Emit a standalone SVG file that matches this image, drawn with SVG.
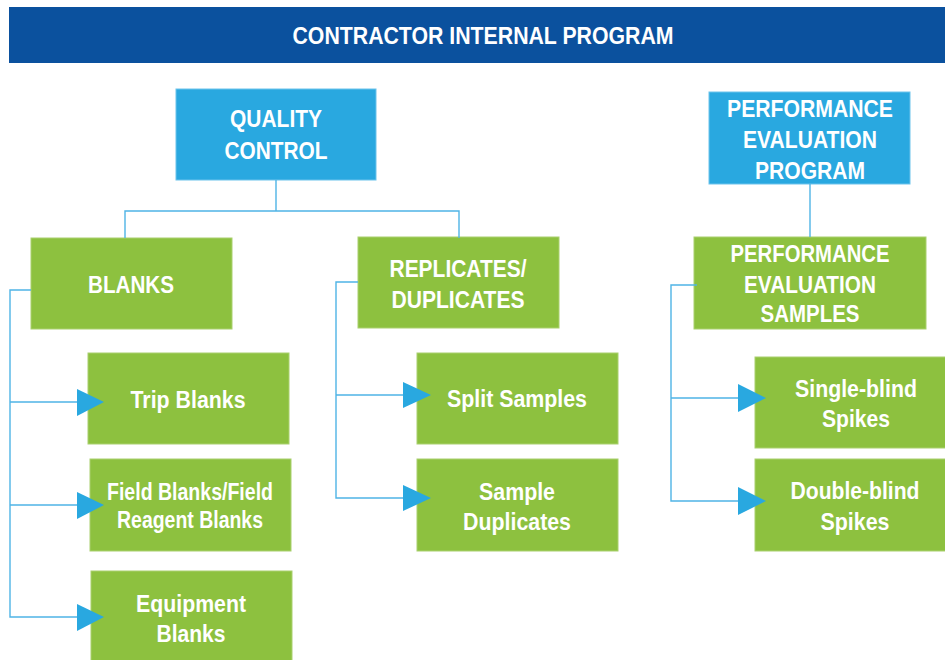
<svg xmlns="http://www.w3.org/2000/svg" width="945" height="660" viewBox="0 0 945 660">
<defs>
<style>
.t{font-family:"Liberation Sans Narrow","Liberation Sans",Arial,sans-serif;font-weight:bold;fill:#ffffff;text-anchor:middle;font-size:24px}
.g{fill:#8dc13f;stroke:#a9d06f;stroke-width:1}
.b{fill:#29a8e0;stroke:#6cc3ec;stroke-width:1}
.c{fill:none;stroke:#4fb4e6;stroke-width:1.4}
.a{fill:#29a8e0}
</style>
</defs>
<rect width="945" height="660" fill="#ffffff"/>
<g id="header">
<rect x="9" y="7" width="936" height="56" fill="#0b519e"/>
<text class="t" x="483" y="44" font-size="25" textLength="381" lengthAdjust="spacingAndGlyphs">CONTRACTOR INTERNAL PROGRAM</text>
</g>
<g id="quality-control">
<rect class="b" x="176" y="89" width="200" height="91"/>
<text class="t" x="276" y="127" textLength="92" lengthAdjust="spacingAndGlyphs">QUALITY</text>
<text class="t" x="276" y="159" textLength="103" lengthAdjust="spacingAndGlyphs">CONTROL</text>
</g>
<g id="blanks">
<rect class="g" x="31" y="238" width="201" height="91"/>
<text class="t" x="131" y="293" textLength="86" lengthAdjust="spacingAndGlyphs">BLANKS</text>
</g>
<g id="trip-blanks">
<rect class="g" x="88" y="353" width="201" height="91"/>
<text class="t" x="188" y="408" textLength="115" lengthAdjust="spacingAndGlyphs">Trip Blanks</text>
</g>
<g id="field-blanks">
<rect class="g" x="90" y="459" width="201" height="92"/>
<text class="t" x="190" y="500" textLength="166" lengthAdjust="spacingAndGlyphs">Field Blanks/Field</text>
<text class="t" x="190" y="528" textLength="146" lengthAdjust="spacingAndGlyphs">Reagent Blanks</text>
</g>
<g id="equipment-blanks">
<rect class="g" x="91" y="571" width="201" height="95"/>
<text class="t" x="191" y="612" textLength="110" lengthAdjust="spacingAndGlyphs">Equipment</text>
<text class="t" x="191" y="642" textLength="69" lengthAdjust="spacingAndGlyphs">Blanks</text>
</g>
<g id="replicates">
<rect class="g" x="358" y="237" width="201" height="91"/>
<text class="t" x="458" y="277" textLength="137" lengthAdjust="spacingAndGlyphs">REPLICATES/</text>
<text class="t" x="458" y="308" textLength="133" lengthAdjust="spacingAndGlyphs">DUPLICATES</text>
</g>
<g id="split-samples">
<rect class="g" x="417" y="353" width="201" height="91"/>
<text class="t" x="517" y="407" textLength="140" lengthAdjust="spacingAndGlyphs">Split Samples</text>
</g>
<g id="sample-duplicates">
<rect class="g" x="417" y="459" width="201" height="92"/>
<text class="t" x="517" y="500" textLength="76" lengthAdjust="spacingAndGlyphs">Sample</text>
<text class="t" x="517" y="530" textLength="108" lengthAdjust="spacingAndGlyphs">Duplicates</text>
</g>
<g id="pe-program">
<rect class="b" x="709" y="92" width="201" height="92"/>
<text class="t" x="810" y="117" textLength="166" lengthAdjust="spacingAndGlyphs">PERFORMANCE</text>
<text class="t" x="810" y="148" textLength="134" lengthAdjust="spacingAndGlyphs">EVALUATION</text>
<text class="t" x="810" y="179" textLength="110" lengthAdjust="spacingAndGlyphs">PROGRAM</text>
</g>
<g id="pe-samples">
<rect class="g" x="694" y="237" width="232" height="92"/>
<text class="t" x="810" y="262" textLength="159" lengthAdjust="spacingAndGlyphs">PERFORMANCE</text>
<text class="t" x="810" y="293" textLength="132" lengthAdjust="spacingAndGlyphs">EVALUATION</text>
<text class="t" x="810" y="322" textLength="99" lengthAdjust="spacingAndGlyphs">SAMPLES</text>
</g>
<g id="single-blind">
<rect class="g" x="755" y="357" width="195" height="91"/>
<text class="t" x="856" y="397" textLength="122" lengthAdjust="spacingAndGlyphs">Single-blind</text>
<text class="t" x="856" y="427" textLength="68" lengthAdjust="spacingAndGlyphs">Spikes</text>
</g>
<g id="double-blind">
<rect class="g" x="755" y="459" width="195" height="92"/>
<text class="t" x="855" y="499" textLength="129" lengthAdjust="spacingAndGlyphs">Double-blind</text>
<text class="t" x="855" y="530" textLength="69" lengthAdjust="spacingAndGlyphs">Spikes</text>
</g>
<g id="connectors">
<path class="c" d="M276 180V211M125 238V211H459V238"/>
<path class="c" d="M31 290H10V617H78M10 402H78M10 505H78"/>
<path class="c" d="M358 282H336V498H404M336 395H404"/>
<path class="c" d="M810 184V237"/>
<path class="c" d="M697 285H671V501H739M671 398H739"/>
<path class="a" d="M77 389L104 402L77 416Z"/>
<path class="a" d="M77 492L104 505L77 519Z"/>
<path class="a" d="M77 604L104 617L77 631Z"/>
<path class="a" d="M403 382L431 395L403 408Z"/>
<path class="a" d="M403 485L431 498L403 511Z"/>
<path class="a" d="M738 384L766 398L738 412Z"/>
<path class="a" d="M738 487L766 501L738 515Z"/>
</g>
</svg>
